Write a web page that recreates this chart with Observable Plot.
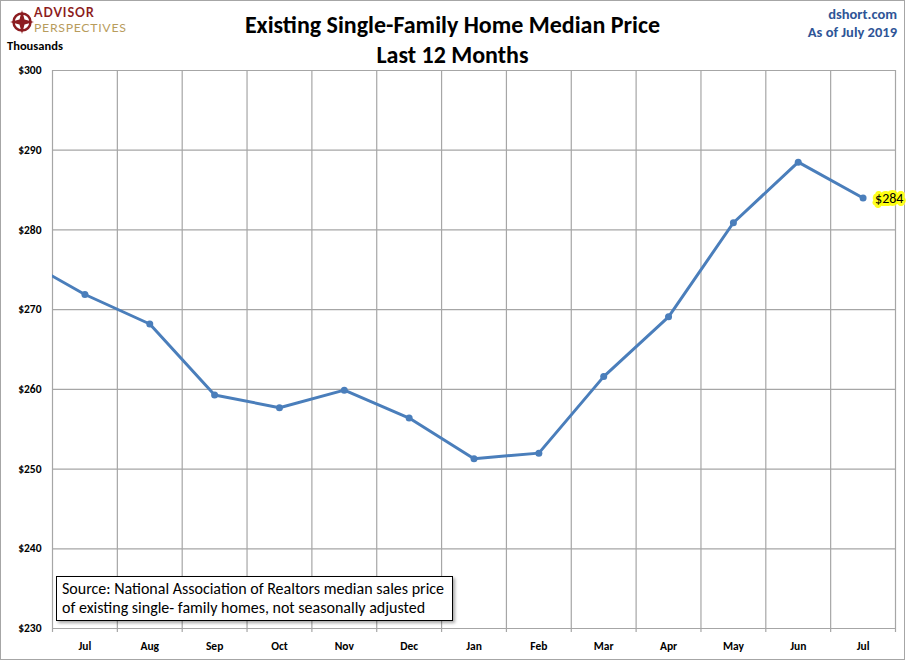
<!DOCTYPE html>
<html>
<head>
<meta charset="utf-8">
<script src="https://cdn.jsdelivr.net/npm/d3@7"></script>
<script src="https://cdn.jsdelivr.net/npm/@observablehq/plot@0.6"></script>
<style>
  body { margin: 0; background: #fff; font-family: Carlito, Lato, "Open Sans", sans-serif; }
  #wrap { position: relative; width: 905px; height: 660px; border: 1px solid #a6a6a6; box-sizing: border-box; }
  #head { position: relative; height: 59px; }
  .title { position: absolute; left: 0; width: 903px; text-align: center; font-weight: bold; font-size: 24px; line-height: 28px; color: #000; }
  .brand { position: absolute; right: 7px; text-align: right; font-weight: bold; font-size: 14.5px; color: #2f5597; }
  #logo { position: absolute; left: 33px; top: 5px; font-family: Lato, sans-serif; font-size: 12.3px; line-height: 14.8px; white-space: nowrap; }
  #source { position: absolute; left: 55px; top: 575px; width: 397px; height: 45px; box-sizing: border-box;
    border: 1px solid #000; background: #fff; box-shadow: 2px 2px 3px rgba(0,0,0,0.35);
    font-size: 16px; line-height: 19px; padding: 2px 5px; color: #000; white-space: nowrap; }
</style>
</head>
<body>
<div id="wrap">
  <div id="head">
    <svg width="24" height="24" style="position:absolute;left:9px;top:9px">
      <circle cx="12" cy="12" r="8.5" fill="none" stroke="#8c1c20" stroke-width="2.5"/>
      <polygon points="12,0 14.5,9.5 24,12 14.5,14.5 12,24 9.5,14.5 0,12 9.5,9.5" fill="#8c1c20"/>
    </svg>
    <div id="logo"><b style="color:#8c1c20;letter-spacing:0.9px">ADVISOR</b><br><span style="color:#b89c5c;letter-spacing:0.7px">PERSPECTIVES</span></div>
    <div style="position:absolute;left:6px;top:37px;font-weight:bold;font-size:12.5px;">Thousands</div>
    <div class="title" style="top:10px">Existing Single-Family Home Median Price</div>
    <div class="title" style="top:40px">Last 12 Months</div>
    <div class="brand" style="top:4px">dshort.com</div>
    <div class="brand" style="top:22px">As of July 2019</div>
  </div>
  <div id="chart"></div>
  <div id="source">Source: National Association of Realtors median sales price<br>of existing single- family homes, not seasonally adjusted</div>
</div>
<script>
// Jun 2018 (partly off the left edge) through Jul 2019, thousands of dollars
const months = ["Jun", "Jul", "Aug", "Sep", "Oct", "Nov", "Dec", "Jan", "Feb", "Mar", "Apr", "May", "Jun", "Jul"];
const prices = [276.5, 271.9, 268.2, 259.3, 257.7, 259.9, 256.4, 251.3, 252.0, 261.6, 269.1, 280.9, 288.5, 284.0];
const yTicks = [230, 240, 250, 260, 270, 280, 290, 300];

const data = prices.map((v, k) => ({ i: k - 1, month: months[k], v }));
const shown = data.filter((d) => d.i >= 0);
const last = shown.slice(-1);

const blue = "#4a7ebb";
const grid = "#a6a6a6";

const plot = Plot.plot({
  width: 903,
  height: 599,
  marginLeft: 51,
  marginRight: 9,
  marginTop: 10,
  marginBottom: 31,
  style: { fontFamily: "Carlito, Lato, sans-serif", fontSize: "11.5px", fontWeight: "bold", color: "#000", overflow: "visible" },
  x: {
    type: "linear",
    domain: [-0.5, shown.length - 0.5],
    ticks: shown.map((d) => d.i),
    tickFormat: (i) => months[i + 1],
    tickSize: 0,
    tickPadding: 13,
    label: null
  },
  y: {
    domain: [230, 300],
    ticks: yTicks,
    tickFormat: (d) => "$" + d,
    tickSize: 0,
    tickPadding: 11,
    label: null
  },
  marks: [
    Plot.ruleY(yTicks, { stroke: grid, strokeWidth: 1.2 }),
    Plot.ruleX(d3.range(-0.5, shown.length), { stroke: grid, strokeWidth: 1.2, insetBottom: -4 }),
    Plot.line(data, { x: "i", y: "v", stroke: blue, strokeWidth: 3, clip: true }),
    Plot.dot(shown, { x: "i", y: "v", r: 3.5, fill: blue, stroke: "none" }),
    Plot.text(last, {
      x: "i", y: "v",
      text: (d) => "$" + Math.round(d.v),
      textAnchor: "start", dx: 12, fontSize: 14, fontWeight: "normal",
      fill: "#000", stroke: "#ffff00", strokeWidth: 6, strokeOpacity: 0.9
    })
  ]
});
document.getElementById("chart").appendChild(plot);
</script>
</body>
</html>
